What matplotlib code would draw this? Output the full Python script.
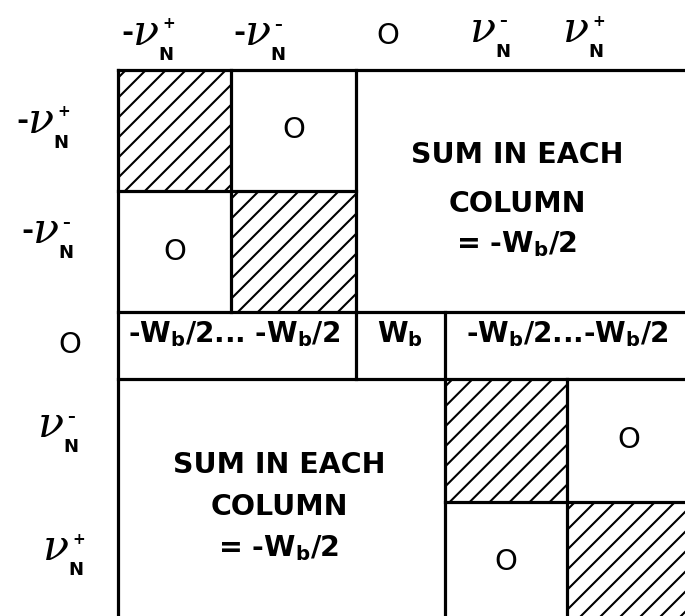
import numpy as np
import matplotlib.pyplot as plt
from matplotlib.patches import Rectangle

plt.rcParams['mathtext.default'] = 'regular'

# row / column labels of the block matrix: (leading minus, superscript sign)
labels = [('-', '+'), ('-', '\u2013'), None, ('', '\u2013'), ('', '+')]
zero_label = 'O'

# which blocks are hatched, which hold a zero
hatched_blocks = [(0, 0), (1, 1), (3, 3), (4, 4)]
zero_blocks = [(0, 1), (1, 0), (3, 4), (4, 3)]

# middle row entries
row0_left = '-$W_b$/2... -$W_b$/2'
row0_mid = '$W_b$'
row0_right = '-$W_b$/2...-$W_b$/2'
sum_text = ['SUM IN EACH', 'COLUMN', '= -$W_b$/2']

# layout in pixels (figure is 685 x 616)
col_edges = [118, 231, 356, 445, 567, 690]
row_edges = [70, 191, 312, 379, 502, 622]
head_pos = [(133, 45), (245, 45), (388, 36), (470, 42), (563, 42)]
side_pos = [(28, 133), (33, 243), (70, 345), (38, 437), (43, 560)]

fig = plt.figure(figsize=(6.85, 6.16), dpi=100)
ax = fig.add_axes([0, 0, 1, 1])
ax.set_xlim(0, 685)
ax.set_ylim(616, 0)
ax.axis('off')

lw = 2.3
sans = 'DejaVu Sans'


def nu_label(x, y, lab):
    """x, y = left edge and baseline of the nu glyph"""
    neg, sign = lab
    ax.text(x, y, '\u03bd', family='DejaVu Serif', style='italic',
            fontsize=31, ha='left', va='baseline')
    if neg:
        ax.text(x + 1, y - 12, '-', family=sans, weight='bold',
                fontsize=21, ha='right', va='center')
    ax.text(x + 29, y - 21, sign, family=sans, weight='bold',
            fontsize=11, ha='left', va='center')
    ax.text(x + 25, y + 1, 'N', family=sans, weight='bold',
            fontsize=13, ha='left', va='top')


# Hatched diagonal blocks.
for r, c in hatched_blocks:
    x0, x1 = col_edges[c], col_edges[c + 1]
    y0, y1 = row_edges[r], row_edges[r + 1]
    rect = Rectangle((x0, y0), x1 - x0, y1 - y0, fill=False, lw=0)
    ax.add_patch(rect)
    h = y1 - y0
    for s in np.arange(x0 - h * 1.1, x1 + 20, 20):
        ln, = ax.plot([s, s + h], [y1, y0], color='black', lw=1.5,
                      solid_capstyle='butt')
        ln.set_clip_path(rect)

# Block borders.
def seg(xa, ya, xb, yb):
    ax.plot([xa, xb], [ya, yb], color='black', lw=lw, solid_capstyle='projecting')


ce, re = col_edges, row_edges
seg(ce[0], re[0], ce[5], re[0])            # top
seg(ce[0], re[0], ce[0], re[5])            # left
seg(ce[1], re[0], ce[1], re[2])
seg(ce[2], re[0], ce[2], re[3])
seg(ce[0], re[1], ce[2], re[1])
seg(ce[0], re[2], ce[5], re[2])
seg(ce[0], re[3], ce[5], re[3])
seg(ce[3], re[2], ce[3], re[5])
seg(ce[4], re[3], ce[4], re[5])
seg(ce[3], re[4], ce[5], re[4])

# Zero blocks.
for r, c in zero_blocks:
    xc = (col_edges[c] + col_edges[c + 1]) / 2
    yc = (row_edges[r] + row_edges[r + 1]) / 2
    ax.text(xc, yc, zero_label, family=sans, fontsize=21,
            ha='center', va='center')

# Row and column labels.
for lab, (hx, hy), (sx, sy) in zip(labels, head_pos, side_pos):
    if lab is None:
        ax.text(hx, hy, zero_label, family=sans, fontsize=21,
                ha='center', va='center')
        ax.text(sx, sy, zero_label, family=sans, fontsize=21,
                ha='center', va='center')
    else:
        nu_label(hx, hy, lab)
        nu_label(sx, sy, lab)

# Middle row.
ax.text(234, 342, row0_left, family=sans, weight='bold', fontsize=20,
        ha='center', va='baseline')
ax.text(400, 342, row0_mid, family=sans, weight='bold', fontsize=20,
        ha='center', va='baseline')
ax.text(567, 342, row0_right, family=sans, weight='bold', fontsize=20,
        ha='center', va='baseline')

# "Sum in each column" blocks.
for (xc, ys) in [(517, [163, 212, 252]), (279, [473, 515, 556])]:
    for t, yb in zip(sum_text, ys):
        ax.text(xc, yb, t, family=sans, weight='bold', fontsize=20.5,
                ha='center', va='baseline')

plt.savefig('out.png', dpi=100)
